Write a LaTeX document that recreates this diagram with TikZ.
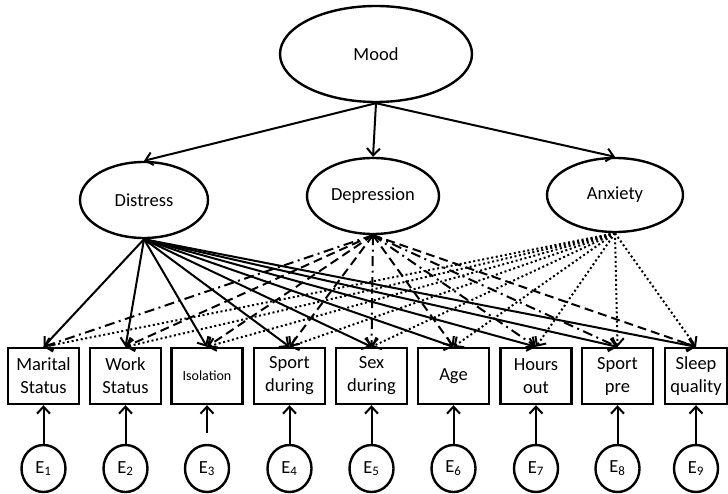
\documentclass[tikz,border=0pt]{standalone}
\usepackage{fontspec}
\setmainfont{Carlito}
\usetikzlibrary{shapes.geometric,arrows.meta}

\newlength{\du}
\setlength{\du}{1pt}
\definecolor{dialinecolor}{rgb}{0.000000, 0.000000, 0.000000}

\tikzset{
  latent/.style={ellipse,draw=dialinecolor,line width=2.4\du,inner sep=0pt,
    font=\fontsize{18.5}{23}\selectfont},
  observed/.style={rectangle,draw=dialinecolor,line width=2.4\du,minimum width=71\du,
    minimum height=56\du,inner sep=1pt,align=center,font=\fontsize{18.5}{23}\selectfont},
  errterm/.style={ellipse,draw=dialinecolor,line width=2.4\du,minimum width=44\du,
    minimum height=47\du,inner sep=0pt,font=\fontsize{18.5}{23}\selectfont},
  loading/.style={draw=dialinecolor,line width=2\du,-{Straight Barb[length=7pt,width=13pt]}},
  dashdot/.style={dash pattern=on 10\du off 4.5\du on 2\du off 4.5\du},
  dashlong/.style={dash pattern=on 9\du off 5\du},
  dotline/.style={dash pattern=on 2\du off 2.6\du},
}

\begin{document}
\begin{tikzpicture}[x=1\du,y=-1\du]
\useasboundingbox (0,0) rectangle (728,494);

% latent variables
\node[latent,minimum width=192\du,minimum height=96\du] (mood) at (376,54) {Mood};
\node[latent,minimum width=128\du,minimum height=76\du] (dis) at (144,200) {Distress};
\node[latent,minimum width=132\du,minimum height=76\du] (dep) at (373,196) {Depression};
\node[latent,minimum width=136\du,minimum height=74\du] (anx) at (615,195) {Anxiety};

% observed variables
\node[observed] (mar) at (43.5,376) {Marital\\Status};
\node[observed] (wrk) at (125.5,376) {Work\\Status};
\node[observed,font=\fontsize{14}{17}\selectfont] (iso) at (207,376) {Isolation};
\node[observed] (spd) at (289.5,376) {Sport\\during};
\node[observed] (sxd) at (371.5,376) {Sex\\during};
\node[observed] (age) at (453.5,376) {Age};
\node[observed] (hrs) at (536,376) {Hours\\out};
\node[observed] (spp) at (617.5,376) {Sport\\pre};
\node[observed,minimum width=62\du] (slp) at (696,376) {Sleep\\quality};

% error terms
\node[errterm] (e1) at (43.5,468.5) {E\textsubscript{1}};
\node[errterm] (e2) at (125.5,468.5) {E\textsubscript{2}};
\node[errterm] (e3) at (207,468.5) {E\textsubscript{3}};
\node[errterm] (e4) at (289.5,468.5) {E\textsubscript{4}};
\node[errterm] (e5) at (371.5,468.5) {E\textsubscript{5}};
\node[errterm] (e6) at (453.5,468.5) {E\textsubscript{6}};
\node[errterm] (e7) at (536,468.5) {E\textsubscript{7}};
\node[errterm] (e8) at (617.5,468.5) {E\textsubscript{8}};
\node[errterm] (e9) at (696,468.5) {E\textsubscript{9}};
\coordinate (e3top) at (207,433);

% mood to factors
\draw[loading] (mood.south) -- (dis.north);
\draw[loading] (mood.south) -- (dep.north);
\draw[loading] (mood.south) -- (anx.north);

% distress, solid
\draw[loading] (dis.south) -- (mar.north);
\draw[loading] (dis.south) -- (wrk.north);
\draw[loading] (dis.south) -- (iso.north);
\draw[loading] (dis.south) -- (spd.north);
\draw[loading] (dis.south) -- (sxd.north);
\draw[loading] (dis.south) -- (age.north);
\draw[loading] (dis.south) -- (hrs.north);
\draw[loading] (dis.south) -- (spp.north);
\draw[loading] (dis.south) -- (slp.north);

% depression, dashed and dash dotted
\draw[loading,dashdot] (dep.south) -- (mar.north);
\draw[loading,dashlong] (dep.south) -- (wrk.north);
\draw[loading,dashlong] (dep.south) -- (iso.north);
\draw[loading,dashlong] (dep.south) -- (spd.north);
\draw[loading,dashdot] (dep.south) -- (sxd.north);
\draw[loading,dashlong] (dep.south) -- (age.north);
\draw[loading,dashdot] (dep.south) -- (hrs.north);
\draw[loading,dashdot] (dep.south) -- (spp.north);
\draw[loading,dashlong] (dep.south) -- (slp.north);

% anxiety, dotted
\draw[loading,dotline] (anx.south) -- (mar.north);
\draw[loading,dotline] (anx.south) -- (wrk.north);
\draw[loading,dotline] (anx.south) -- (iso.north);
\draw[loading,dotline] (anx.south) -- (spd.north);
\draw[loading,dotline] (anx.south) -- (sxd.north);
\draw[loading,dotline] (anx.south) -- (age.north);
\draw[loading,dotline] (anx.south) -- (hrs.north);
\draw[loading,dotline] (anx.south) -- (spp.north);
\draw[loading,dotline] (anx.south) -- (slp.north);

% errors to indicators
\draw[loading] (e1.north) -- (mar.south);
\draw[loading] (e2.north) -- (wrk.south);
\draw[loading] (e3top) -- (iso.south);
\draw[loading] (e4.north) -- (spd.south);
\draw[loading] (e5.north) -- (sxd.south);
\draw[loading] (e6.north) -- (age.south);
\draw[loading] (e7.north) -- (hrs.south);
\draw[loading] (e8.north) -- (spp.south);
\draw[loading] (e9.north) -- (slp.south);
\end{tikzpicture}
\end{document}
